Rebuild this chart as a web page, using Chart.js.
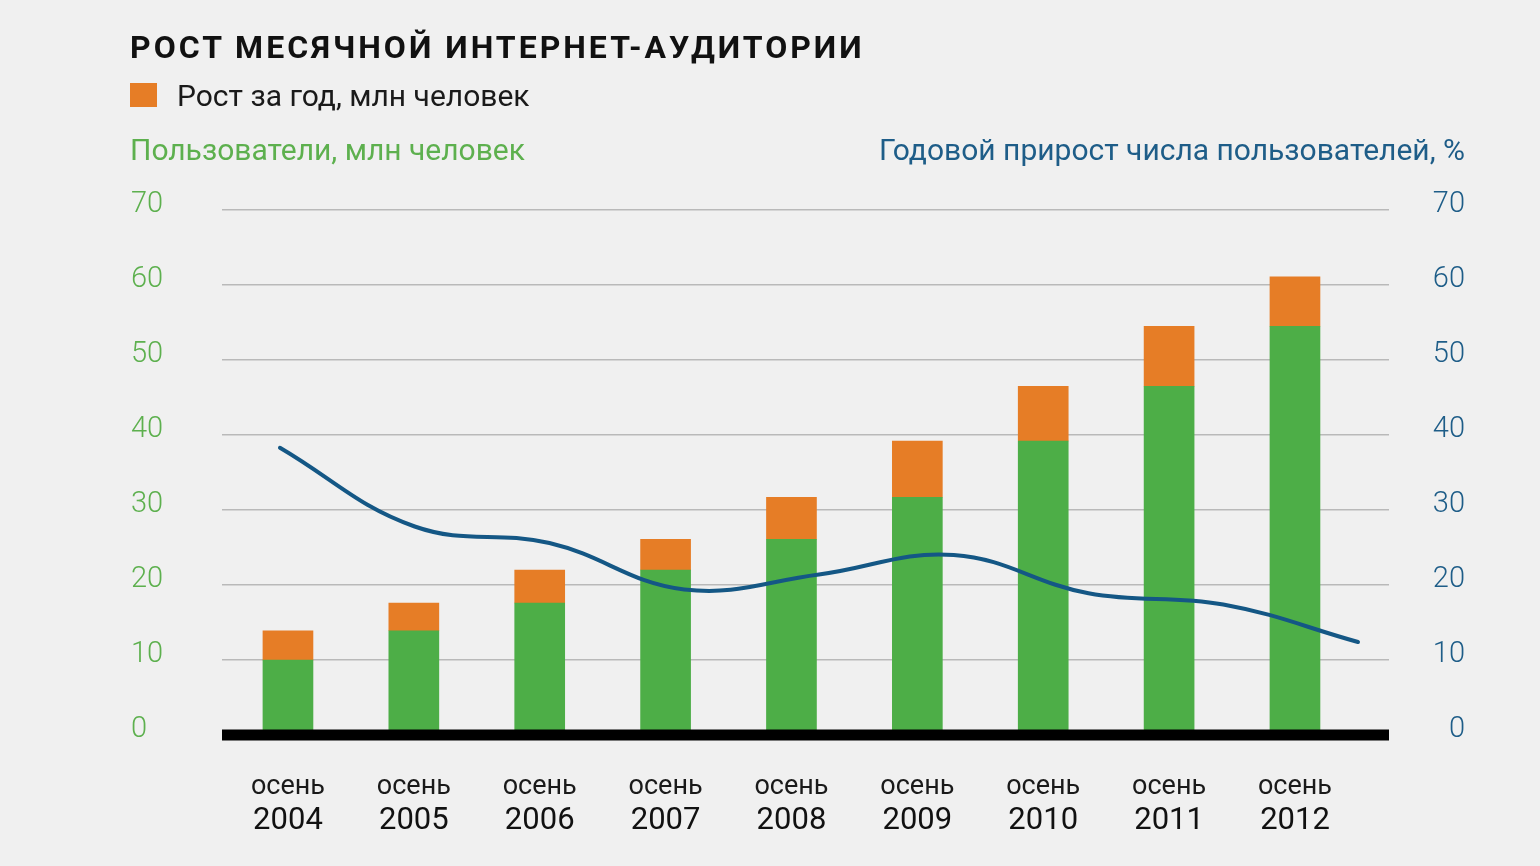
<!DOCTYPE html>
<html lang="ru">
<head>
<meta charset="utf-8">
<title>Рост месячной интернет-аудитории</title>
<script src="https://cdn.jsdelivr.net/npm/chart.js@4.4.1/dist/chart.umd.min.js"></script>
<style>
  body { margin: 0; background: #f0f0f0; font-family: Roboto, "Noto Sans", sans-serif; }
  #wrap { position: relative; width: 1540px; height: 866px; overflow: hidden; }
  #chart { position: absolute; left: 0; top: 0; }
  .txt { position: absolute; white-space: nowrap; line-height: 1; }
  #title { left: 130px; top: 31px; font-size: 32px; font-weight: 700; letter-spacing: 3px; color: #111; }
  #legendBox { position: absolute; left: 130px; top: 83px; width: 27px; height: 24px; background: #e67d26; }
  #legendText { left: 177px; top: 81px; font-size: 30px; color: #1a1a1a; }
  #leftTitle { left: 130px; top: 135px; font-size: 30px; color: #5db04e; }
  #rightTitle { right: 75px; top: 135px; font-size: 30px; color: #1e5d88; }
</style>
</head>
<body>
<div id="wrap">
  <canvas id="chart" width="1540" height="866"></canvas>
  <div class="txt" id="title">РОСТ МЕСЯЧНОЙ ИНТЕРНЕТ-АУДИТОРИИ</div>
  <div id="legendBox"></div>
  <div class="txt" id="legendText">Рост за год, млн человек</div>
  <div class="txt" id="leftTitle">Пользователи, млн человек</div>
  <div class="txt" id="rightTitle">Годовой прирост числа пользователей, %</div>
</div>
<script>
// data
const years = ['2004', '2005', '2006', '2007', '2008', '2009', '2010', '2011', '2012'];
const season = 'осень';
const usersPrev = [10, 13.9, 17.6, 22, 26.1, 31.7, 39.2, 46.5, 54.5];   // green part, mln
const yearGain = [3.9, 3.7, 4.4, 4.1, 5.6, 7.5, 7.3, 8, 6.6];          // orange part, mln
const growthPct = [38.3, 27.8, 25.6, 19.4, 21.4, 24.0, 18.9, 17.4, 12.4]; // line, %
const yTicks = [0, 10, 20, 30, 40, 50, 60, 70];

const green = '#4dae47';
const orange = '#e67d26';
const lineBlue = '#145785';
const leftColor = '#5db04e';
const rightColor = '#1e5d88';

Chart.defaults.font.family = 'Roboto, "Noto Sans", sans-serif';

const xMin = -0.524, xMax = 8.747;   // bar axis range
const lineMin = -0.43, lineMax = 8.23; // line axis range

const labelFor = (v, text) => (Number.isInteger(v) && v >= 0 && v < years.length) ? text(v) : null;

// thick black baseline at zero, drawn over the bars
const baseline = {
    id: 'baseline',
    afterDatasetsDraw(chart) {
        const { ctx, chartArea } = chart;
        const y0 = chart.scales.y.getPixelForValue(0);
        ctx.save();
        ctx.fillStyle = '#000';
        ctx.fillRect(chartArea.left, y0 - 5.5, chartArea.right - chartArea.left, 11);
        ctx.restore();
    }
};

const ctx = document.getElementById('chart').getContext('2d');
const chart = new Chart(ctx, {
    type: 'bar',
    data: {
        datasets: [
            {
                label: 'Пользователи, млн человек',
                data: usersPrev.map((v, i) => ({ x: i, y: v })),
                backgroundColor: green,
                barThickness: 50,
                stack: 'users',
                grouped: false,
                order: 2
            },
            {
                label: 'Рост за год, млн человек',
                data: yearGain.map((v, i) => ({ x: i, y: v })),
                backgroundColor: orange,
                barThickness: 50,
                stack: 'users',
                grouped: false,
                order: 2
            },
            {
                type: 'line',
                label: 'Годовой прирост числа пользователей, %',
                data: growthPct.map((v, i) => ({ x: i, y: v })),
                xAxisID: 'xLine',
                yAxisID: 'y2',
                borderColor: lineBlue,
                borderWidth: 4,
                borderCapStyle: 'round',
                pointRadius: 0,
                tension: 0.4,
                fill: false,
                order: 0
            }
        ]
    },
    options: {
        responsive: false,
        animation: false,
        layout: { padding: { left: 131, right: 75, top: 210, bottom: 0 } },
        plugins: {
            legend: { display: false },
            tooltip: { enabled: false }
        },
        scales: {
            x: {
                type: 'linear',
                min: xMin,
                max: xMax,
                offset: false,
                grid: { display: false, drawTicks: false },
                border: { display: false },
                afterBuildTicks: axis => { axis.ticks = axis.ticks.filter(t => Number.isInteger(t.value)); },
                afterFit: axis => { axis.height = 60; },
                ticks: {
                    stepSize: 1,
                    includeBounds: false,
                    autoSkip: false,
                    maxRotation: 0,
                    padding: 36,
                    color: '#1a1a1a',
                    font: { size: 27 },
                    callback: v => labelFor(v, () => season)
                }
            },
            xYear: {
                type: 'linear',
                position: 'bottom',
                min: xMin,
                max: xMax,
                offset: false,
                grid: { display: false, drawTicks: false },
                border: { display: false },
                afterBuildTicks: axis => { axis.ticks = axis.ticks.filter(t => Number.isInteger(t.value)); },
                afterFit: axis => { axis.height = 71; },
                ticks: {
                    stepSize: 1,
                    includeBounds: false,
                    autoSkip: false,
                    maxRotation: 0,
                    padding: 8,
                    color: '#111',
                    font: { size: 31 },
                    callback: v => labelFor(v, i => years[i])
                }
            },
            xLine: {
                type: 'linear',
                display: false,
                offset: false,
                min: lineMin,
                max: lineMax
            },
            y: {
                position: 'left',
                min: yTicks[0],
                max: yTicks[yTicks.length - 1],
                stacked: true,
                grid: { color: '#b9b9b9', lineWidth: 1.5, drawTicks: false },
                border: { display: false },
                afterFit: axis => { axis.width = 91; },
                ticks: {
                    stepSize: 10,
                    crossAlign: 'far',
                    labelOffset: -5,
                    color: leftColor,
                    font: { size: 29, weight: '300' }
                }
            },
            y2: {
                position: 'right',
                min: yTicks[0],
                max: yTicks[yTicks.length - 1],
                grid: { drawOnChartArea: false, drawTicks: false },
                border: { display: false },
                afterFit: axis => { axis.width = 76; },
                ticks: {
                    stepSize: 10,
                    crossAlign: 'far',
                    labelOffset: -5,
                    color: rightColor,
                    font: { size: 29, weight: '300' }
                }
            }
        }
    },
    plugins: [baseline]
});
</script>
</body>
</html>
